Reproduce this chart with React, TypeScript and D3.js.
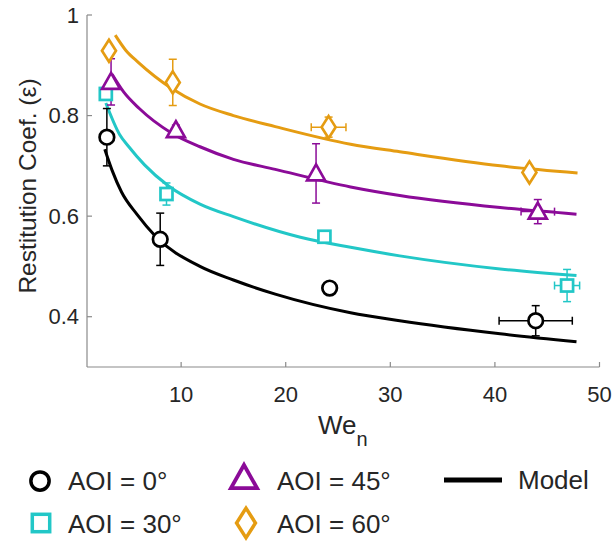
import React from 'react';
import * as d3 from 'd3';

// measured points (We_n, restitution coefficient) with error half-widths
const we0 = [2.9, 8.0, 24.2, 43.9];
const eps0 = [0.757, 0.554, 0.457, 0.392];
const errY0 = [0.057, 0.052, 0, 0.03];
const errX0 = [0, 0, 0, 3.5];

const we30 = [2.8, 8.6, 23.7, 46.9];
const eps30 = [0.843, 0.644, 0.559, 0.462];
const errY30 = [0, 0.022, 0, 0.032];
const errX30 = [0, 0, 0, 1.2];

const we45 = [3.3, 9.5, 22.9, 44.1];
const eps45 = [0.867, 0.771, 0.685, 0.609];
const errY45 = [0.046, 0.01, 0.059, 0.024];
const errX45 = [0, 0, 0, 1.6];

const we60 = [3.1, 9.2, 24.1, 43.3];
const eps60 = [0.929, 0.866, 0.777, 0.687];
const errY60 = [0, 0.046, 0.02, 0];
const errX60 = [0, 0, 1.66, 0];

// model curves
const model0X = [2.7, 3.4, 4.3, 5.8, 7.5, 11.8, 15.0, 19.0, 26.2, 30.9, 40.5, 47.8];
const model0Y = [0.733, 0.691, 0.648, 0.603, 0.561, 0.500, 0.473, 0.445, 0.408, 0.392, 0.366, 0.350];
const model30X = [2.8, 4.1, 5.0, 6.5, 8.8, 11.8, 15.0, 21.4, 26.2, 30.9, 40.5, 47.8];
const model30Y = [0.825, 0.763, 0.738, 0.702, 0.660, 0.624, 0.599, 0.558, 0.538, 0.521, 0.495, 0.482];
const model45X = [3.4, 4.5, 6.0, 9.1, 11.8, 15.0, 19.0, 26.2, 30.9, 40.5, 47.8];
const model45Y = [0.882, 0.847, 0.814, 0.765, 0.738, 0.713, 0.693, 0.658, 0.641, 0.617, 0.604];
const model60X = [3.7, 4.7, 5.9, 9.1, 11.8, 15.0, 19.0, 26.2, 30.9, 40.5, 47.9];
const model60Y = [0.960, 0.930, 0.906, 0.854, 0.823, 0.800, 0.778, 0.743, 0.728, 0.700, 0.686];

const xTicks = [10, 20, 30, 40, 50];
const yTicks = [0.4, 0.6, 0.8, 1];

const colors = {
  aoi0: '#000000',
  aoi30: '#22c7c7',
  aoi45: '#8b0b98',
  aoi60: '#e59c12',
};

const series = [
  { key: 'aoi0', label: 'AOI = 0°', shape: 'circle', we: we0, eps: eps0, ex: errX0, ey: errY0, mx: model0X, my: model0Y },
  { key: 'aoi30', label: 'AOI = 30°', shape: 'square', we: we30, eps: eps30, ex: errX30, ey: errY30, mx: model30X, my: model30Y },
  { key: 'aoi45', label: 'AOI = 45°', shape: 'triangle', we: we45, eps: eps45, ex: errX45, ey: errY45, mx: model45X, my: model45Y },
  { key: 'aoi60', label: 'AOI = 60°', shape: 'diamond', we: we60, eps: eps60, ex: errX60, ey: errY60, mx: model60X, my: model60Y },
];

const W = 615;
const H = 546;
const font = 'Arial, "Liberation Sans", Helvetica, sans-serif';
const textColor = '#262626';
const axisColor = '#8a8a8a';

const x = d3.scaleLinear().domain([1, 50]).range([87, 599.5]);
const y = d3.scaleLinear().domain([0.3, 1]).range([367, 15]);

function Marker({ shape, cx, cy, color, s = 1, sw = 2.7 }: any) {
  if (shape === 'circle') {
    return <circle cx={cx} cy={cy} r={7.3 * s} fill="white" stroke={color} strokeWidth={sw} />;
  }
  if (shape === 'square') {
    const h = 6 * s;
    return <rect x={cx - h} y={cy - h} width={2 * h} height={2 * h} fill="white" stroke={color} strokeWidth={sw} />;
  }
  if (shape === 'triangle') {
    const p = d3.path();
    p.moveTo(cx, cy - 9 * s);
    p.lineTo(cx + 9 * s, cy + 7 * s);
    p.lineTo(cx - 9 * s, cy + 7 * s);
    p.closePath();
    return <path d={p.toString()} fill="white" stroke={color} strokeWidth={sw} />;
  }
  const p = d3.path();
  p.moveTo(cx, cy - 11 * s);
  p.lineTo(cx + 7 * s, cy);
  p.lineTo(cx, cy + 11 * s);
  p.lineTo(cx - 7 * s, cy);
  p.closePath();
  return <path d={p.toString()} fill="white" stroke={color} strokeWidth={sw} />;
}

function ErrorBars({ we, eps, ex, ey, color }: any) {
  const cap = 4;
  return (
    <g stroke={color} strokeWidth={1.5} fill="none">
      {we.map((v: number, i: number) => (
        <g key={i}>
          {ey[i] > 0 && (
            <>
              <line x1={x(v)} x2={x(v)} y1={y(eps[i] - ey[i])} y2={y(eps[i] + ey[i])} />
              <line x1={x(v) - cap} x2={x(v) + cap} y1={y(eps[i] - ey[i])} y2={y(eps[i] - ey[i])} />
              <line x1={x(v) - cap} x2={x(v) + cap} y1={y(eps[i] + ey[i])} y2={y(eps[i] + ey[i])} />
            </>
          )}
          {ex[i] > 0 && (
            <>
              <line x1={x(v - ex[i])} x2={x(v + ex[i])} y1={y(eps[i])} y2={y(eps[i])} />
              <line x1={x(v - ex[i])} x2={x(v - ex[i])} y1={y(eps[i]) - cap} y2={y(eps[i]) + cap} />
              <line x1={x(v + ex[i])} x2={x(v + ex[i])} y1={y(eps[i]) - cap} y2={y(eps[i]) + cap} />
            </>
          )}
        </g>
      ))}
    </g>
  );
}

export default function App() {
  const line = d3
    .line<[number, number]>()
    .x((d) => x(d[0]))
    .y((d) => y(d[1]))
    .curve(d3.curveMonotoneX);

  const [x0, x1] = x.range();
  const [yb, yt] = y.range();

  return (
    <svg width={W} height={H} style={{ position: 'absolute', left: 0, top: 0, background: 'white' }} fontFamily={font}>
      {/* axes */}
      <g stroke={axisColor} strokeWidth={1.2} fill="none">
        <line x1={x0} x2={x0} y1={yb} y2={yt} />
        <line x1={x0} x2={x1} y1={yb} y2={yb} />
        {yTicks.map((t) => (
          <line key={t} x1={x0} x2={x0 + 5} y1={y(t)} y2={y(t)} />
        ))}
        {xTicks.map((t) => (
          <line key={t} x1={x(t)} x2={x(t)} y1={yb} y2={yb - 5} />
        ))}
      </g>
      <g fill={textColor} fontSize={22}>
        {yTicks.map((t) => (
          <text key={t} x={x0 - 8} y={y(t)} dy="0.35em" textAnchor="end">
            {t === 1 ? '1' : d3.format('.1f')(t)}
          </text>
        ))}
        {xTicks.map((t) => (
          <text key={t} x={x(t)} y={402} textAnchor="middle">
            {t}
          </text>
        ))}
      </g>
      <text
        transform="translate(36,186) rotate(-90)"
        textAnchor="middle"
        fontSize={24.5}
        fill={textColor}
      >
        Restitution Coef. (ε)
      </text>
      <text x={318} y={434} fontSize={26} fill={textColor}>
        We
        <tspan dy={12} fontSize={20}>n</tspan>
      </text>

      {/* model curves */}
      {series.map((s) => (
        <path
          key={s.key}
          d={line(s.mx.map((v: number, i: number) => [v, s.my[i]]) as [number, number][]) || ''}
          fill="none"
          stroke={(colors as any)[s.key]}
          strokeWidth={3}
        />
      ))}

      {/* error bars and markers */}
      {series.map((s) => (
        <ErrorBars key={s.key} we={s.we} eps={s.eps} ex={s.ex} ey={s.ey} color={(colors as any)[s.key]} />
      ))}
      {series.map((s) => (
        <g key={s.key}>
          {s.we.map((v: number, i: number) => (
            <Marker key={i} shape={s.shape} cx={x(v)} cy={y(s.eps[i])} color={(colors as any)[s.key]} />
          ))}
        </g>
      ))}

      {/* legend */}
      <g fontSize={26} fill={textColor}>
        <Marker shape="circle" cx={40} cy={481} color={colors.aoi0} s={1.25} sw={3.5} />
        <text x={68} y={490}>{series[0].label}</text>
        <Marker shape="square" cx={41} cy={523} color={colors.aoi30} s={1.45} sw={3.5} />
        <text x={68} y={533}>{series[1].label}</text>
        <Marker shape="triangle" cx={244} cy={478} color={colors.aoi45} s={1.45} sw={3.8} />
        <text x={277} y={490}>{series[2].label}</text>
        <Marker shape="diamond" cx={246} cy={523} color={colors.aoi60} s={1.35} sw={3.5} />
        <text x={277} y={533}>{series[3].label}</text>
        <line x1={444} x2={502} y1={480} y2={480} stroke="black" strokeWidth={5} />
        <text x={518} y={489}>Model</text>
      </g>
    </svg>
  );
}
